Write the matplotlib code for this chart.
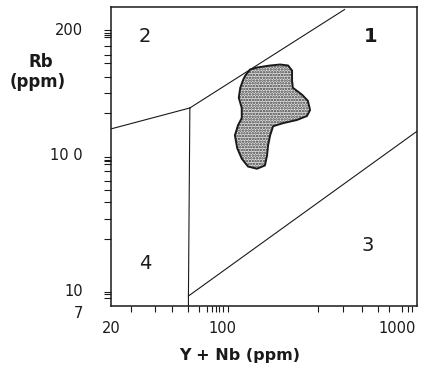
import matplotlib
matplotlib.use("Agg")
import matplotlib.pyplot as plt
from matplotlib.patches import Polygon
from matplotlib.ticker import NullFormatter
from matplotlib.transforms import blended_transform_factory

# Pearce et al. (1984) Rb vs (Y+Nb) boundaries
syncolg_vag_x = [2, 55]
syncolg_vag_y = [80, 300]
syncolg_wpg_x = [55, 400]
syncolg_wpg_y = [300, 2000]
vag_wpg_x = [55, 54, 54]
vag_wpg_y = [300, 8, 1]
vag_org_x = [54, 2000]
vag_org_y = [8, 400]

# field numbers
field_labels = ["1", "2", "3", "4"]
field_x = [560, 31, 535, 31]
field_y = [1180, 1200, 21, 15]

# outline of the stippled sample field
blob_x = [112, 119, 130, 154, 175, 194, 204, 204, 206, 232, 250, 257, 247, 217,
          182, 160, 154, 150, 148, 144, 130, 116, 107, 101, 98, 102, 107, 107,
          103, 105, 109]
blob_y = [560, 629, 654, 680, 693, 680, 616, 508, 443, 387, 344, 288, 257, 238,
          224, 211, 177, 146, 120, 99, 93, 97, 113, 138, 177, 215, 247, 300,
          365, 443, 517]

# axis ticks as printed on the scanned figure
x_major = [20, 100, 1000]
x_major_labels = ["20", "100", "1000"]
x_minor = [26, 35, 44, 54, 62, 68.5, 73, 77, 80, 84, 90,
           285, 392, 500, 615, 708, 836, 903, 951]
y_minor = [1340, 1270, 1220, 1170, 990, 840, 710, 550, 400, 270,
           117, 111, 107, 101, 89, 74, 62, 49, 35, 24, 8.6, 8.3, 7.7]
y_label_vals = [1340, 120, 8.65, 5.75]
y_label_text = ["200", "10 0", "10", "7"]

ink = "#1a1a1a"

fig = plt.figure(figsize=(4.23, 3.72), dpi=100)
ax = fig.add_axes([0.2624, 0.1774, 0.7234, 0.8038])
ax.set_xscale("log")
ax.set_yscale("log")
ax.set_xlim(20, 1013)
ax.set_ylim(6.6, 2100)

for xs, ys in [(syncolg_vag_x, syncolg_vag_y), (syncolg_wpg_x, syncolg_wpg_y),
               (vag_wpg_x, vag_wpg_y), (vag_org_x, vag_org_y)]:
    ax.plot(xs, ys, color=ink, lw=0.8)

pts = list(zip(blob_x, blob_y))
plt.rcParams["hatch.linewidth"] = 1.2
ax.add_patch(Polygon(pts, closed=True, facecolor="#e4e4e4", edgecolor="#3a3a3a",
                     hatch="......", lw=0))
ax.add_patch(Polygon(pts, closed=True, facecolor="none", edgecolor=ink,
                     lw=1.4, joinstyle="round"))

for t, x, y in zip(field_labels, field_x, field_y):
    ax.text(x, y, t, ha="center", va="center", fontsize=14, color=ink,
            fontweight="bold" if t == "1" else "normal")

for s in ax.spines.values():
    s.set_linewidth(1.1)
    s.set_color(ink)

ax.set_xticks(x_major, x_major_labels)
ax.set_xticks(x_minor, minor=True)
ax.set_yticks([])
ax.set_yticks(y_minor, minor=True)
ax.xaxis.set_minor_formatter(NullFormatter())
ax.yaxis.set_minor_formatter(NullFormatter())
ax.tick_params(axis="x", which="major", length=0, pad=11, labelsize=10.5,
               colors=ink)
ax.tick_params(axis="x", which="minor", length=4, width=0.8, color=ink)
ax.tick_params(axis="y", which="minor", length=5, width=0.8, color=ink)
ax.tick_params(axis="y", which="major", length=0)
for lab in ax.get_xticklabels():
    if lab.get_text() != "20":
        lab.set_ha("right")

trans = blended_transform_factory(ax.transAxes, ax.transData)
for v, t in zip(y_label_vals, y_label_text):
    ax.text(-0.092, v, t, transform=trans, ha="right", va="center",
            fontsize=10.5, color=ink)

fig.text(0.567, 0.045, "Y + Nb (ppm)", ha="center", va="center",
         fontsize=11.5, fontweight="bold", color=ink)
fig.text(0.097, 0.833, "Rb", ha="center", va="center",
         fontsize=12, fontweight="bold", color=ink)
fig.text(0.088, 0.78, "(ppm)", ha="center", va="center",
         fontsize=12, fontweight="bold", color=ink)

fig.savefig("out.png", dpi=100)
